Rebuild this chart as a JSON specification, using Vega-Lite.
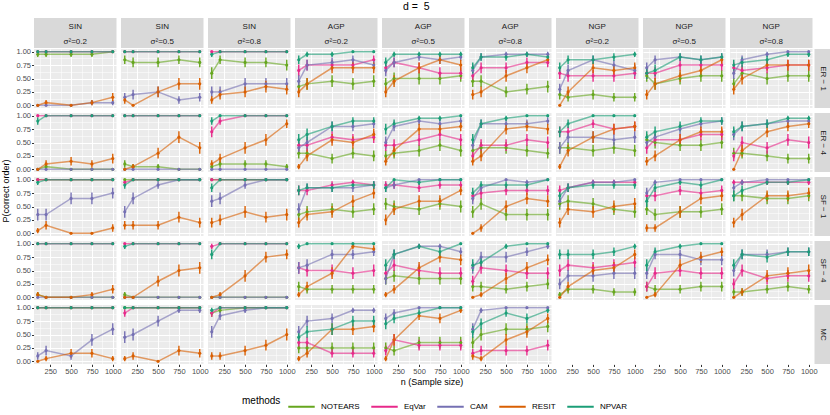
{
"$schema":"https://vega.github.io/schema/vega-lite/v6.json",
"padding":{"left":1,"top":2,"right":0,"bottom":2},
"background":"white",
"title":{"text":"d = \u00a05","fontSize":10.5,"fontWeight":"normal","anchor":"middle","offset":5,"color":"#000000"},
"data":{"values":"c,r,m,n,p,e\nS2,ER1,NOTEARS,100,95,5\nS2,ER1,NOTEARS,200,95,5\nS2,ER1,NOTEARS,500,95,5\nS2,ER1,NOTEARS,750,95,5\nS2,ER1,NOTEARS,1000,100,\nS2,ER1,EqVar,100,100,\nS2,ER1,EqVar,200,100,\nS2,ER1,EqVar,500,100,\nS2,ER1,EqVar,750,100,\nS2,ER1,EqVar,1000,100,\nS2,ER1,CAM,100,0,\nS2,ER1,CAM,200,0,\nS2,ER1,CAM,500,0,\nS2,ER1,CAM,750,5,5\nS2,ER1,CAM,1000,5,5\nS2,ER1,RESIT,100,0,\nS2,ER1,RESIT,200,5,5\nS2,ER1,RESIT,500,0,\nS2,ER1,RESIT,750,5,5\nS2,ER1,RESIT,1000,15,8\nS2,ER1,NPVAR,100,100,\nS2,ER1,NPVAR,200,100,\nS2,ER1,NPVAR,500,100,\nS2,ER1,NPVAR,750,100,\nS2,ER1,NPVAR,1000,100,\nS5,ER1,NOTEARS,100,85,8\nS5,ER1,NOTEARS,200,80,9\nS5,ER1,NOTEARS,500,80,9\nS5,ER1,NOTEARS,750,85,8\nS5,ER1,NOTEARS,1000,80,9\nS5,ER1,EqVar,100,100,\nS5,ER1,EqVar,200,100,\nS5,ER1,EqVar,500,100,\nS5,ER1,EqVar,750,100,\nS5,ER1,EqVar,1000,100,\nS5,ER1,CAM,100,15,8\nS5,ER1,CAM,200,20,9\nS5,ER1,CAM,500,25,10\nS5,ER1,CAM,750,10,7\nS5,ER1,CAM,1000,15,8\nS5,ER1,RESIT,100,10,7\nS5,ER1,RESIT,200,0,\nS5,ER1,RESIT,500,25,10\nS5,ER1,RESIT,750,40,11\nS5,ER1,RESIT,1000,40,11\nS5,ER1,NPVAR,100,100,\nS5,ER1,NPVAR,200,100,\nS5,ER1,NPVAR,500,100,\nS5,ER1,NPVAR,750,100,\nS5,ER1,NPVAR,1000,100,\nS8,ER1,NOTEARS,100,60,11\nS8,ER1,NOTEARS,200,85,8\nS8,ER1,NOTEARS,500,80,9\nS8,ER1,NOTEARS,750,80,9\nS8,ER1,NOTEARS,1000,75,10\nS8,ER1,EqVar,100,100,\nS8,ER1,EqVar,200,100,\nS8,ER1,EqVar,500,100,\nS8,ER1,EqVar,750,100,\nS8,ER1,EqVar,1000,100,\nS8,ER1,CAM,100,25,10\nS8,ER1,CAM,200,25,10\nS8,ER1,CAM,500,40,11\nS8,ER1,CAM,750,40,11\nS8,ER1,CAM,1000,40,11\nS8,ER1,RESIT,100,10,7\nS8,ER1,RESIT,200,20,9\nS8,ER1,RESIT,500,25,10\nS8,ER1,RESIT,750,35,11\nS8,ER1,RESIT,1000,30,10\nS8,ER1,NPVAR,100,95,5\nS8,ER1,NPVAR,200,100,\nS8,ER1,NPVAR,500,100,\nS8,ER1,NPVAR,750,100,\nS8,ER1,NPVAR,1000,100,\nA2,ER1,NOTEARS,100,35,11\nA2,ER1,NOTEARS,200,40,11\nA2,ER1,NOTEARS,500,45,11\nA2,ER1,NOTEARS,750,40,11\nA2,ER1,NOTEARS,1000,45,11\nA2,ER1,EqVar,100,65,11\nA2,ER1,EqVar,200,75,10\nA2,ER1,EqVar,500,75,10\nA2,ER1,EqVar,750,75,10\nA2,ER1,EqVar,1000,85,8\nA2,ER1,CAM,100,45,11\nA2,ER1,CAM,200,75,10\nA2,ER1,CAM,500,80,9\nA2,ER1,CAM,750,85,8\nA2,ER1,CAM,1000,75,10\nA2,ER1,RESIT,100,25,10\nA2,ER1,RESIT,200,40,11\nA2,ER1,RESIT,500,70,10\nA2,ER1,RESIT,750,70,10\nA2,ER1,RESIT,1000,70,10\nA2,ER1,NPVAR,100,85,8\nA2,ER1,NPVAR,200,95,5\nA2,ER1,NPVAR,500,95,5\nA2,ER1,NPVAR,750,100,\nA2,ER1,NPVAR,1000,100,\nA5,ER1,NOTEARS,100,40,11\nA5,ER1,NOTEARS,200,50,11\nA5,ER1,NOTEARS,500,50,11\nA5,ER1,NOTEARS,750,50,11\nA5,ER1,NOTEARS,1000,55,11\nA5,ER1,EqVar,100,70,10\nA5,ER1,EqVar,200,80,9\nA5,ER1,EqVar,500,70,10\nA5,ER1,EqVar,750,60,11\nA5,ER1,EqVar,1000,60,11\nA5,ER1,CAM,100,65,11\nA5,ER1,CAM,200,80,9\nA5,ER1,CAM,500,90,7\nA5,ER1,CAM,750,85,8\nA5,ER1,CAM,1000,90,7\nA5,ER1,RESIT,100,25,10\nA5,ER1,RESIT,200,45,11\nA5,ER1,RESIT,500,70,10\nA5,ER1,RESIT,750,85,8\nA5,ER1,RESIT,1000,75,10\nA5,ER1,NPVAR,100,80,9\nA5,ER1,NPVAR,200,95,5\nA5,ER1,NPVAR,500,95,5\nA5,ER1,NPVAR,750,95,5\nA5,ER1,NPVAR,1000,95,5\nA8,ER1,NOTEARS,100,45,11\nA8,ER1,NOTEARS,200,45,11\nA8,ER1,NOTEARS,500,25,10\nA8,ER1,NOTEARS,750,30,10\nA8,ER1,NOTEARS,1000,35,11\nA8,ER1,EqVar,100,55,11\nA8,ER1,EqVar,200,70,10\nA8,ER1,EqVar,500,70,10\nA8,ER1,EqVar,750,80,9\nA8,ER1,EqVar,1000,80,9\nA8,ER1,CAM,100,65,11\nA8,ER1,CAM,200,90,7\nA8,ER1,CAM,500,95,5\nA8,ER1,CAM,750,95,5\nA8,ER1,CAM,1000,95,5\nA8,ER1,RESIT,100,20,9\nA8,ER1,RESIT,200,25,10\nA8,ER1,RESIT,500,55,11\nA8,ER1,RESIT,750,70,10\nA8,ER1,RESIT,1000,85,8\nA8,ER1,NPVAR,100,70,10\nA8,ER1,NPVAR,200,90,7\nA8,ER1,NPVAR,500,90,7\nA8,ER1,NPVAR,750,95,5\nA8,ER1,NPVAR,1000,90,7\nN2,ER1,NOTEARS,100,20,9\nN2,ER1,NOTEARS,200,15,8\nN2,ER1,NOTEARS,500,20,9\nN2,ER1,NOTEARS,750,15,8\nN2,ER1,NOTEARS,1000,15,8\nN2,ER1,EqVar,100,60,11\nN2,ER1,EqVar,200,55,11\nN2,ER1,EqVar,500,55,11\nN2,ER1,EqVar,750,55,11\nN2,ER1,EqVar,1000,60,11\nN2,ER1,CAM,100,30,10\nN2,ER1,CAM,200,65,11\nN2,ER1,CAM,500,85,8\nN2,ER1,CAM,750,75,10\nN2,ER1,CAM,1000,65,11\nN2,ER1,RESIT,100,0,\nN2,ER1,RESIT,200,25,10\nN2,ER1,RESIT,500,70,10\nN2,ER1,RESIT,750,65,11\nN2,ER1,RESIT,1000,70,10\nN2,ER1,NPVAR,100,70,10\nN2,ER1,NPVAR,200,85,8\nN2,ER1,NPVAR,500,85,8\nN2,ER1,NPVAR,750,90,7\nN2,ER1,NPVAR,1000,95,5\nN5,ER1,NOTEARS,100,55,11\nN5,ER1,NOTEARS,200,40,11\nN5,ER1,NOTEARS,500,50,11\nN5,ER1,NOTEARS,750,55,11\nN5,ER1,NOTEARS,1000,55,11\nN5,ER1,EqVar,100,60,11\nN5,ER1,EqVar,200,60,11\nN5,ER1,EqVar,500,75,10\nN5,ER1,EqVar,750,75,10\nN5,ER1,EqVar,1000,75,10\nN5,ER1,CAM,100,70,10\nN5,ER1,CAM,200,85,8\nN5,ER1,CAM,500,90,7\nN5,ER1,CAM,750,85,8\nN5,ER1,CAM,1000,90,7\nN5,ER1,RESIT,100,20,9\nN5,ER1,RESIT,200,40,11\nN5,ER1,RESIT,500,55,11\nN5,ER1,RESIT,750,65,11\nN5,ER1,RESIT,1000,85,8\nN5,ER1,NPVAR,100,60,11\nN5,ER1,NPVAR,200,65,11\nN5,ER1,NPVAR,500,90,7\nN5,ER1,NPVAR,750,85,8\nN5,ER1,NPVAR,1000,90,7\nN8,ER1,NOTEARS,100,40,11\nN8,ER1,NOTEARS,200,60,11\nN8,ER1,NOTEARS,500,50,11\nN8,ER1,NOTEARS,750,55,11\nN8,ER1,NOTEARS,1000,55,11\nN8,ER1,EqVar,100,70,10\nN8,ER1,EqVar,200,65,11\nN8,ER1,EqVar,500,70,10\nN8,ER1,EqVar,750,75,10\nN8,ER1,EqVar,1000,75,10\nN8,ER1,CAM,100,60,11\nN8,ER1,CAM,200,85,8\nN8,ER1,CAM,500,95,5\nN8,ER1,CAM,750,100,\nN8,ER1,CAM,1000,100,\nN8,ER1,RESIT,100,30,10\nN8,ER1,RESIT,200,50,11\nN8,ER1,RESIT,500,75,10\nN8,ER1,RESIT,750,75,10\nN8,ER1,RESIT,1000,75,10\nN8,ER1,NPVAR,100,75,10\nN8,ER1,NPVAR,200,80,9\nN8,ER1,NPVAR,500,85,8\nN8,ER1,NPVAR,750,95,5\nN8,ER1,NPVAR,1000,95,5\nS2,ER4,NOTEARS,100,0,\nS2,ER4,NOTEARS,200,5,5\nS2,ER4,NOTEARS,500,0,\nS2,ER4,NOTEARS,750,0,\nS2,ER4,NOTEARS,1000,0,\nS2,ER4,EqVar,100,100,\nS2,ER4,EqVar,200,100,\nS2,ER4,EqVar,500,100,\nS2,ER4,EqVar,750,100,\nS2,ER4,EqVar,1000,100,\nS2,ER4,CAM,100,0,\nS2,ER4,CAM,200,0,\nS2,ER4,CAM,500,0,\nS2,ER4,CAM,750,0,\nS2,ER4,CAM,1000,0,\nS2,ER4,RESIT,100,0,\nS2,ER4,RESIT,200,10,7\nS2,ER4,RESIT,500,15,8\nS2,ER4,RESIT,750,10,7\nS2,ER4,RESIT,1000,20,9\nS2,ER4,NPVAR,100,90,7\nS2,ER4,NPVAR,200,100,\nS2,ER4,NPVAR,500,100,\nS2,ER4,NPVAR,750,100,\nS2,ER4,NPVAR,1000,100,\nS5,ER4,NOTEARS,100,10,7\nS5,ER4,NOTEARS,200,5,5\nS5,ER4,NOTEARS,500,5,5\nS5,ER4,NOTEARS,750,0,\nS5,ER4,NOTEARS,1000,0,\nS5,ER4,EqVar,100,100,\nS5,ER4,EqVar,200,100,\nS5,ER4,EqVar,500,100,\nS5,ER4,EqVar,750,100,\nS5,ER4,EqVar,1000,100,\nS5,ER4,CAM,100,0,\nS5,ER4,CAM,200,0,\nS5,ER4,CAM,500,0,\nS5,ER4,CAM,750,0,\nS5,ER4,CAM,1000,0,\nS5,ER4,RESIT,100,0,\nS5,ER4,RESIT,200,5,5\nS5,ER4,RESIT,500,30,10\nS5,ER4,RESIT,750,60,11\nS5,ER4,RESIT,1000,40,11\nS5,ER4,NPVAR,100,100,\nS5,ER4,NPVAR,200,100,\nS5,ER4,NPVAR,500,100,\nS5,ER4,NPVAR,750,100,\nS5,ER4,NPVAR,1000,100,\nS8,ER4,NOTEARS,100,5,5\nS8,ER4,NOTEARS,200,10,7\nS8,ER4,NOTEARS,500,10,7\nS8,ER4,NOTEARS,750,10,7\nS8,ER4,NOTEARS,1000,5,5\nS8,ER4,EqVar,100,70,10\nS8,ER4,EqVar,200,90,7\nS8,ER4,EqVar,500,100,\nS8,ER4,EqVar,750,100,\nS8,ER4,EqVar,1000,100,\nS8,ER4,CAM,100,0,\nS8,ER4,CAM,200,0,\nS8,ER4,CAM,500,0,\nS8,ER4,CAM,750,0,\nS8,ER4,CAM,1000,0,\nS8,ER4,RESIT,100,10,7\nS8,ER4,RESIT,200,20,9\nS8,ER4,RESIT,500,40,11\nS8,ER4,RESIT,750,55,11\nS8,ER4,RESIT,1000,85,8\nS8,ER4,NPVAR,100,90,7\nS8,ER4,NPVAR,200,100,\nS8,ER4,NPVAR,500,100,\nS8,ER4,NPVAR,750,100,\nS8,ER4,NPVAR,1000,100,\nA2,ER4,NOTEARS,100,30,10\nA2,ER4,NOTEARS,200,30,10\nA2,ER4,NOTEARS,500,20,9\nA2,ER4,NOTEARS,750,30,10\nA2,ER4,NOTEARS,1000,25,10\nA2,ER4,EqVar,100,45,11\nA2,ER4,EqVar,200,45,11\nA2,ER4,EqVar,500,60,11\nA2,ER4,EqVar,750,55,11\nA2,ER4,EqVar,1000,60,11\nA2,ER4,CAM,100,40,11\nA2,ER4,CAM,200,50,11\nA2,ER4,CAM,500,80,9\nA2,ER4,CAM,750,80,9\nA2,ER4,CAM,1000,85,8\nA2,ER4,RESIT,100,5,5\nA2,ER4,RESIT,200,25,10\nA2,ER4,RESIT,500,55,11\nA2,ER4,RESIT,750,50,11\nA2,ER4,RESIT,1000,65,11\nA2,ER4,NPVAR,100,55,11\nA2,ER4,NPVAR,200,65,11\nA2,ER4,NPVAR,500,80,9\nA2,ER4,NPVAR,750,90,7\nA2,ER4,NPVAR,1000,90,7\nA5,ER4,NOTEARS,100,25,10\nA5,ER4,NOTEARS,200,30,10\nA5,ER4,NOTEARS,500,35,11\nA5,ER4,NOTEARS,750,45,11\nA5,ER4,NOTEARS,1000,35,11\nA5,ER4,EqVar,100,45,11\nA5,ER4,EqVar,200,45,11\nA5,ER4,EqVar,500,55,11\nA5,ER4,EqVar,750,65,11\nA5,ER4,EqVar,1000,55,11\nA5,ER4,CAM,100,50,11\nA5,ER4,CAM,200,80,9\nA5,ER4,CAM,500,90,7\nA5,ER4,CAM,750,85,8\nA5,ER4,CAM,1000,90,7\nA5,ER4,RESIT,100,15,8\nA5,ER4,RESIT,200,35,11\nA5,ER4,RESIT,500,75,10\nA5,ER4,RESIT,750,75,10\nA5,ER4,RESIT,1000,80,9\nA5,ER4,NPVAR,100,75,10\nA5,ER4,NPVAR,200,85,8\nA5,ER4,NPVAR,500,95,5\nA5,ER4,NPVAR,750,95,5\nA5,ER4,NPVAR,1000,100,\nA8,ER4,NOTEARS,100,35,11\nA8,ER4,NOTEARS,200,40,11\nA8,ER4,NOTEARS,500,40,11\nA8,ER4,NOTEARS,750,35,11\nA8,ER4,NOTEARS,1000,30,10\nA8,ER4,EqVar,100,25,10\nA8,ER4,EqVar,200,45,11\nA8,ER4,EqVar,500,45,11\nA8,ER4,EqVar,750,55,11\nA8,ER4,EqVar,1000,50,11\nA8,ER4,CAM,100,45,11\nA8,ER4,CAM,200,85,8\nA8,ER4,CAM,500,85,8\nA8,ER4,CAM,750,85,8\nA8,ER4,CAM,1000,90,7\nA8,ER4,RESIT,100,15,8\nA8,ER4,RESIT,200,25,10\nA8,ER4,RESIT,500,75,10\nA8,ER4,RESIT,750,80,9\nA8,ER4,RESIT,1000,75,10\nA8,ER4,NPVAR,100,55,11\nA8,ER4,NPVAR,200,85,8\nA8,ER4,NPVAR,500,95,5\nA8,ER4,NPVAR,750,100,\nA8,ER4,NPVAR,1000,100,\nN2,ER4,NOTEARS,100,40,11\nN2,ER4,NOTEARS,200,40,11\nN2,ER4,NOTEARS,500,35,11\nN2,ER4,NOTEARS,750,40,11\nN2,ER4,NOTEARS,1000,35,11\nN2,ER4,EqVar,100,70,10\nN2,ER4,EqVar,200,70,10\nN2,ER4,EqVar,500,85,8\nN2,ER4,EqVar,750,75,10\nN2,ER4,EqVar,1000,80,9\nN2,ER4,CAM,100,40,11\nN2,ER4,CAM,200,60,11\nN2,ER4,CAM,500,60,11\nN2,ER4,CAM,750,55,11\nN2,ER4,CAM,1000,60,11\nN2,ER4,RESIT,100,5,5\nN2,ER4,RESIT,200,35,11\nN2,ER4,RESIT,500,60,11\nN2,ER4,RESIT,750,75,10\nN2,ER4,RESIT,1000,80,9\nN2,ER4,NPVAR,100,70,10\nN2,ER4,NPVAR,200,85,8\nN2,ER4,NPVAR,500,100,\nN2,ER4,NPVAR,750,100,\nN2,ER4,NPVAR,1000,100,\nN5,ER4,NOTEARS,100,55,11\nN5,ER4,NOTEARS,200,50,11\nN5,ER4,NOTEARS,500,45,11\nN5,ER4,NOTEARS,750,45,11\nN5,ER4,NOTEARS,1000,50,11\nN5,ER4,EqVar,100,40,11\nN5,ER4,EqVar,200,55,11\nN5,ER4,EqVar,500,55,11\nN5,ER4,EqVar,750,65,11\nN5,ER4,EqVar,1000,65,11\nN5,ER4,CAM,100,50,11\nN5,ER4,CAM,200,60,11\nN5,ER4,CAM,500,75,10\nN5,ER4,CAM,750,85,8\nN5,ER4,CAM,1000,90,7\nN5,ER4,RESIT,100,15,8\nN5,ER4,RESIT,200,25,10\nN5,ER4,RESIT,500,55,11\nN5,ER4,RESIT,750,70,10\nN5,ER4,RESIT,1000,70,10\nN5,ER4,NPVAR,100,60,11\nN5,ER4,NPVAR,200,70,10\nN5,ER4,NPVAR,500,80,9\nN5,ER4,NPVAR,750,90,7\nN5,ER4,NPVAR,1000,90,7\nN8,ER4,NOTEARS,100,30,10\nN8,ER4,NOTEARS,200,30,10\nN8,ER4,NOTEARS,500,25,10\nN8,ER4,NOTEARS,750,20,9\nN8,ER4,NOTEARS,1000,20,9\nN8,ER4,EqVar,100,25,10\nN8,ER4,EqVar,200,50,11\nN8,ER4,EqVar,500,40,11\nN8,ER4,EqVar,750,55,11\nN8,ER4,EqVar,1000,50,11\nN8,ER4,CAM,100,65,11\nN8,ER4,CAM,200,80,9\nN8,ER4,CAM,500,85,8\nN8,ER4,CAM,750,90,7\nN8,ER4,CAM,1000,90,7\nN8,ER4,RESIT,100,0,\nN8,ER4,RESIT,200,35,11\nN8,ER4,RESIT,500,70,10\nN8,ER4,RESIT,750,80,9\nN8,ER4,RESIT,1000,85,8\nN8,ER4,NPVAR,100,70,10\nN8,ER4,NPVAR,200,80,9\nN8,ER4,NPVAR,500,85,8\nN8,ER4,NPVAR,750,95,5\nN8,ER4,NPVAR,1000,95,5\nS2,SF1,NOTEARS,100,100,\nS2,SF1,NOTEARS,200,100,\nS2,SF1,NOTEARS,500,100,\nS2,SF1,NOTEARS,750,100,\nS2,SF1,NOTEARS,1000,100,\nS2,SF1,EqVar,100,100,\nS2,SF1,EqVar,200,100,\nS2,SF1,EqVar,500,100,\nS2,SF1,EqVar,750,100,\nS2,SF1,EqVar,1000,100,\nS2,SF1,CAM,100,35,11\nS2,SF1,CAM,200,35,11\nS2,SF1,CAM,500,65,11\nS2,SF1,CAM,750,65,11\nS2,SF1,CAM,1000,75,10\nS2,SF1,RESIT,100,5,5\nS2,SF1,RESIT,200,15,8\nS2,SF1,RESIT,500,0,\nS2,SF1,RESIT,750,0,\nS2,SF1,RESIT,1000,10,7\nS2,SF1,NPVAR,100,95,5\nS2,SF1,NPVAR,200,100,\nS2,SF1,NPVAR,500,100,\nS2,SF1,NPVAR,750,100,\nS2,SF1,NPVAR,1000,100,\nS5,SF1,NOTEARS,100,100,\nS5,SF1,NOTEARS,200,100,\nS5,SF1,NOTEARS,500,100,\nS5,SF1,NOTEARS,750,100,\nS5,SF1,NOTEARS,1000,100,\nS5,SF1,EqVar,100,95,5\nS5,SF1,EqVar,200,100,\nS5,SF1,EqVar,500,100,\nS5,SF1,EqVar,750,100,\nS5,SF1,EqVar,1000,100,\nS5,SF1,CAM,100,40,11\nS5,SF1,CAM,200,65,11\nS5,SF1,CAM,500,90,7\nS5,SF1,CAM,750,100,\nS5,SF1,CAM,1000,100,\nS5,SF1,RESIT,100,15,8\nS5,SF1,RESIT,200,15,8\nS5,SF1,RESIT,500,15,8\nS5,SF1,RESIT,750,30,10\nS5,SF1,RESIT,1000,20,9\nS5,SF1,NPVAR,100,90,7\nS5,SF1,NPVAR,200,100,\nS5,SF1,NPVAR,500,100,\nS5,SF1,NPVAR,750,100,\nS5,SF1,NPVAR,1000,100,\nS8,SF1,NOTEARS,100,100,\nS8,SF1,NOTEARS,200,100,\nS8,SF1,NOTEARS,500,100,\nS8,SF1,NOTEARS,750,100,\nS8,SF1,NOTEARS,1000,100,\nS8,SF1,EqVar,100,100,\nS8,SF1,EqVar,200,100,\nS8,SF1,EqVar,500,100,\nS8,SF1,EqVar,750,100,\nS8,SF1,EqVar,1000,100,\nS8,SF1,CAM,100,60,11\nS8,SF1,CAM,200,65,11\nS8,SF1,CAM,500,90,7\nS8,SF1,CAM,750,100,\nS8,SF1,CAM,1000,100,\nS8,SF1,RESIT,100,20,9\nS8,SF1,RESIT,200,25,10\nS8,SF1,RESIT,500,40,11\nS8,SF1,RESIT,750,30,10\nS8,SF1,RESIT,1000,35,11\nS8,SF1,NPVAR,100,85,8\nS8,SF1,NPVAR,200,100,\nS8,SF1,NPVAR,500,100,\nS8,SF1,NPVAR,750,100,\nS8,SF1,NPVAR,1000,100,\nA2,SF1,NOTEARS,100,35,11\nA2,SF1,NOTEARS,200,40,11\nA2,SF1,NOTEARS,500,45,11\nA2,SF1,NOTEARS,750,40,11\nA2,SF1,NOTEARS,1000,45,11\nA2,SF1,EqVar,100,80,9\nA2,SF1,EqVar,200,80,9\nA2,SF1,EqVar,500,90,7\nA2,SF1,EqVar,750,95,5\nA2,SF1,EqVar,1000,90,7\nA2,SF1,CAM,100,45,11\nA2,SF1,CAM,200,85,8\nA2,SF1,CAM,500,85,8\nA2,SF1,CAM,750,85,8\nA2,SF1,CAM,1000,90,7\nA2,SF1,RESIT,100,20,9\nA2,SF1,RESIT,200,35,11\nA2,SF1,RESIT,500,40,11\nA2,SF1,RESIT,750,60,11\nA2,SF1,RESIT,1000,75,10\nA2,SF1,NPVAR,100,80,9\nA2,SF1,NPVAR,200,85,8\nA2,SF1,NPVAR,500,85,8\nA2,SF1,NPVAR,750,90,7\nA2,SF1,NPVAR,1000,90,7\nA5,SF1,NOTEARS,100,55,11\nA5,SF1,NOTEARS,200,50,11\nA5,SF1,NOTEARS,500,45,11\nA5,SF1,NOTEARS,750,55,11\nA5,SF1,NOTEARS,1000,50,11\nA5,SF1,EqVar,100,90,7\nA5,SF1,EqVar,200,90,7\nA5,SF1,EqVar,500,85,8\nA5,SF1,EqVar,750,90,7\nA5,SF1,EqVar,1000,90,7\nA5,SF1,CAM,100,85,8\nA5,SF1,CAM,200,90,7\nA5,SF1,CAM,500,100,\nA5,SF1,CAM,750,100,\nA5,SF1,CAM,1000,100,\nA5,SF1,RESIT,100,25,10\nA5,SF1,RESIT,200,45,11\nA5,SF1,RESIT,500,60,11\nA5,SF1,RESIT,750,60,11\nA5,SF1,RESIT,1000,80,9\nA5,SF1,NPVAR,100,85,8\nA5,SF1,NPVAR,200,100,\nA5,SF1,NPVAR,500,95,5\nA5,SF1,NPVAR,750,100,\nA5,SF1,NPVAR,1000,100,\nA8,SF1,NOTEARS,100,40,11\nA8,SF1,NOTEARS,200,55,11\nA8,SF1,NOTEARS,500,35,11\nA8,SF1,NOTEARS,750,35,11\nA8,SF1,NOTEARS,1000,35,11\nA8,SF1,EqVar,100,70,10\nA8,SF1,EqVar,200,75,10\nA8,SF1,EqVar,500,80,9\nA8,SF1,EqVar,750,80,9\nA8,SF1,EqVar,1000,80,9\nA8,SF1,CAM,100,65,11\nA8,SF1,CAM,200,85,8\nA8,SF1,CAM,500,100,\nA8,SF1,CAM,750,95,5\nA8,SF1,CAM,1000,100,\nA8,SF1,RESIT,100,0,\nA8,SF1,RESIT,200,10,7\nA8,SF1,RESIT,500,50,11\nA8,SF1,RESIT,750,65,11\nA8,SF1,RESIT,1000,60,11\nA8,SF1,NPVAR,100,75,10\nA8,SF1,NPVAR,200,90,7\nA8,SF1,NPVAR,500,90,7\nA8,SF1,NPVAR,750,90,7\nA8,SF1,NPVAR,1000,100,\nN2,SF1,NOTEARS,100,55,11\nN2,SF1,NOTEARS,200,60,11\nN2,SF1,NOTEARS,500,55,11\nN2,SF1,NOTEARS,750,45,11\nN2,SF1,NOTEARS,1000,40,11\nN2,SF1,EqVar,100,80,9\nN2,SF1,EqVar,200,85,8\nN2,SF1,EqVar,500,95,5\nN2,SF1,EqVar,750,95,5\nN2,SF1,EqVar,1000,95,5\nN2,SF1,CAM,100,60,11\nN2,SF1,CAM,200,85,8\nN2,SF1,CAM,500,95,5\nN2,SF1,CAM,750,95,5\nN2,SF1,CAM,1000,100,\nN2,SF1,RESIT,100,20,9\nN2,SF1,RESIT,200,45,11\nN2,SF1,RESIT,500,40,11\nN2,SF1,RESIT,750,50,11\nN2,SF1,RESIT,1000,55,11\nN2,SF1,NPVAR,100,70,10\nN2,SF1,NPVAR,200,85,8\nN2,SF1,NPVAR,500,90,7\nN2,SF1,NPVAR,750,90,7\nN2,SF1,NPVAR,1000,90,7\nN5,SF1,NOTEARS,100,45,11\nN5,SF1,NOTEARS,200,35,11\nN5,SF1,NOTEARS,500,40,11\nN5,SF1,NOTEARS,750,40,11\nN5,SF1,NOTEARS,1000,45,11\nN5,SF1,EqVar,100,70,10\nN5,SF1,EqVar,200,70,10\nN5,SF1,EqVar,500,80,9\nN5,SF1,EqVar,750,75,10\nN5,SF1,EqVar,1000,80,9\nN5,SF1,CAM,100,75,10\nN5,SF1,CAM,200,95,5\nN5,SF1,CAM,500,100,\nN5,SF1,CAM,750,100,\nN5,SF1,CAM,1000,100,\nN5,SF1,RESIT,100,10,7\nN5,SF1,RESIT,200,10,7\nN5,SF1,RESIT,500,40,11\nN5,SF1,RESIT,750,65,11\nN5,SF1,RESIT,1000,70,10\nN5,SF1,NPVAR,100,60,11\nN5,SF1,NPVAR,200,85,8\nN5,SF1,NPVAR,500,95,5\nN5,SF1,NPVAR,750,90,7\nN5,SF1,NPVAR,1000,100,\nN8,SF1,NOTEARS,100,70,10\nN8,SF1,NOTEARS,200,70,10\nN8,SF1,NOTEARS,500,65,11\nN8,SF1,NOTEARS,750,65,11\nN8,SF1,NOTEARS,1000,70,10\nN8,SF1,EqVar,100,95,5\nN8,SF1,EqVar,200,95,5\nN8,SF1,EqVar,500,95,5\nN8,SF1,EqVar,750,95,5\nN8,SF1,EqVar,1000,95,5\nN8,SF1,CAM,100,85,8\nN8,SF1,CAM,200,95,5\nN8,SF1,CAM,500,100,\nN8,SF1,CAM,750,100,\nN8,SF1,CAM,1000,100,\nN8,SF1,RESIT,100,20,9\nN8,SF1,RESIT,200,35,11\nN8,SF1,RESIT,500,70,10\nN8,SF1,RESIT,750,70,10\nN8,SF1,RESIT,1000,75,10\nN8,SF1,NPVAR,100,70,10\nN8,SF1,NPVAR,200,80,9\nN8,SF1,NPVAR,500,95,5\nN8,SF1,NPVAR,750,95,5\nN8,SF1,NPVAR,1000,100,\nS2,SF4,NOTEARS,100,5,5\nS2,SF4,NOTEARS,200,0,\nS2,SF4,NOTEARS,500,0,\nS2,SF4,NOTEARS,750,0,\nS2,SF4,NOTEARS,1000,0,\nS2,SF4,EqVar,100,100,\nS2,SF4,EqVar,200,100,\nS2,SF4,EqVar,500,100,\nS2,SF4,EqVar,750,100,\nS2,SF4,EqVar,1000,100,\nS2,SF4,CAM,100,0,\nS2,SF4,CAM,200,0,\nS2,SF4,CAM,500,0,\nS2,SF4,CAM,750,0,\nS2,SF4,CAM,1000,0,\nS2,SF4,RESIT,100,5,5\nS2,SF4,RESIT,200,0,\nS2,SF4,RESIT,500,0,\nS2,SF4,RESIT,750,5,5\nS2,SF4,RESIT,1000,15,8\nS2,SF4,NPVAR,100,100,\nS2,SF4,NPVAR,200,100,\nS2,SF4,NPVAR,500,100,\nS2,SF4,NPVAR,750,100,\nS2,SF4,NPVAR,1000,100,\nS5,SF4,NOTEARS,100,5,5\nS5,SF4,NOTEARS,200,0,\nS5,SF4,NOTEARS,500,0,\nS5,SF4,NOTEARS,750,0,\nS5,SF4,NOTEARS,1000,0,\nS5,SF4,EqVar,100,100,\nS5,SF4,EqVar,200,100,\nS5,SF4,EqVar,500,100,\nS5,SF4,EqVar,750,100,\nS5,SF4,EqVar,1000,100,\nS5,SF4,CAM,100,0,\nS5,SF4,CAM,200,0,\nS5,SF4,CAM,500,0,\nS5,SF4,CAM,750,0,\nS5,SF4,CAM,1000,0,\nS5,SF4,RESIT,100,0,\nS5,SF4,RESIT,200,0,\nS5,SF4,RESIT,500,30,10\nS5,SF4,RESIT,750,50,11\nS5,SF4,RESIT,1000,55,11\nS5,SF4,NPVAR,100,95,5\nS5,SF4,NPVAR,200,100,\nS5,SF4,NPVAR,500,100,\nS5,SF4,NPVAR,750,100,\nS5,SF4,NPVAR,1000,100,\nS8,SF4,NOTEARS,100,0,\nS8,SF4,NOTEARS,200,0,\nS8,SF4,NOTEARS,500,0,\nS8,SF4,NOTEARS,750,0,\nS8,SF4,NOTEARS,1000,0,\nS8,SF4,EqVar,100,95,5\nS8,SF4,EqVar,200,100,\nS8,SF4,EqVar,500,100,\nS8,SF4,EqVar,750,100,\nS8,SF4,EqVar,1000,100,\nS8,SF4,CAM,100,0,\nS8,SF4,CAM,200,0,\nS8,SF4,CAM,500,0,\nS8,SF4,CAM,750,0,\nS8,SF4,CAM,1000,0,\nS8,SF4,RESIT,100,0,\nS8,SF4,RESIT,200,5,5\nS8,SF4,RESIT,500,40,11\nS8,SF4,RESIT,750,75,10\nS8,SF4,RESIT,1000,80,9\nS8,SF4,NPVAR,100,80,9\nS8,SF4,NPVAR,200,100,\nS8,SF4,NPVAR,500,100,\nS8,SF4,NPVAR,750,100,\nS8,SF4,NPVAR,1000,100,\nA2,SF4,NOTEARS,100,20,9\nA2,SF4,NOTEARS,200,15,8\nA2,SF4,NOTEARS,500,15,8\nA2,SF4,NOTEARS,750,15,8\nA2,SF4,NOTEARS,1000,15,8\nA2,SF4,EqVar,100,55,11\nA2,SF4,EqVar,200,50,11\nA2,SF4,EqVar,500,50,11\nA2,SF4,EqVar,750,45,11\nA2,SF4,EqVar,1000,50,11\nA2,SF4,CAM,100,55,11\nA2,SF4,CAM,200,60,11\nA2,SF4,CAM,500,80,9\nA2,SF4,CAM,750,80,9\nA2,SF4,CAM,1000,85,8\nA2,SF4,RESIT,100,5,5\nA2,SF4,RESIT,200,20,9\nA2,SF4,RESIT,500,45,11\nA2,SF4,RESIT,750,95,5\nA2,SF4,RESIT,1000,90,7\nA2,SF4,NPVAR,100,95,5\nA2,SF4,NPVAR,200,100,\nA2,SF4,NPVAR,500,100,\nA2,SF4,NPVAR,750,100,\nA2,SF4,NPVAR,1000,100,\nA5,SF4,NOTEARS,100,35,11\nA5,SF4,NOTEARS,200,40,11\nA5,SF4,NOTEARS,500,35,11\nA5,SF4,NOTEARS,750,35,11\nA5,SF4,NOTEARS,1000,35,11\nA5,SF4,EqVar,100,45,11\nA5,SF4,EqVar,200,60,11\nA5,SF4,EqVar,500,50,11\nA5,SF4,EqVar,750,45,11\nA5,SF4,EqVar,1000,45,11\nA5,SF4,CAM,100,35,11\nA5,SF4,CAM,200,80,9\nA5,SF4,CAM,500,95,5\nA5,SF4,CAM,750,95,5\nA5,SF4,CAM,1000,85,8\nA5,SF4,RESIT,100,5,5\nA5,SF4,RESIT,200,15,8\nA5,SF4,RESIT,500,55,11\nA5,SF4,RESIT,750,75,10\nA5,SF4,RESIT,1000,70,10\nA5,SF4,NPVAR,100,60,11\nA5,SF4,NPVAR,200,80,9\nA5,SF4,NPVAR,500,95,5\nA5,SF4,NPVAR,750,85,8\nA5,SF4,NPVAR,1000,100,\nA8,SF4,NOTEARS,100,20,9\nA8,SF4,NOTEARS,200,20,9\nA8,SF4,NOTEARS,500,15,8\nA8,SF4,NOTEARS,750,20,9\nA8,SF4,NOTEARS,1000,25,10\nA8,SF4,EqVar,100,30,10\nA8,SF4,EqVar,200,55,11\nA8,SF4,EqVar,500,50,11\nA8,SF4,EqVar,750,45,11\nA8,SF4,EqVar,1000,45,11\nA8,SF4,CAM,100,55,11\nA8,SF4,CAM,200,75,10\nA8,SF4,CAM,500,75,10\nA8,SF4,CAM,750,85,8\nA8,SF4,CAM,1000,95,5\nA8,SF4,RESIT,100,0,\nA8,SF4,RESIT,200,5,5\nA8,SF4,RESIT,500,35,11\nA8,SF4,RESIT,750,55,11\nA8,SF4,RESIT,1000,70,10\nA8,SF4,NPVAR,100,60,11\nA8,SF4,NPVAR,200,65,11\nA8,SF4,NPVAR,500,95,5\nA8,SF4,NPVAR,750,100,\nA8,SF4,NPVAR,1000,100,\nN2,SF4,NOTEARS,100,5,5\nN2,SF4,NOTEARS,200,15,8\nN2,SF4,NOTEARS,500,15,8\nN2,SF4,NOTEARS,750,10,7\nN2,SF4,NOTEARS,1000,10,7\nN2,SF4,EqVar,100,50,11\nN2,SF4,EqVar,200,60,11\nN2,SF4,EqVar,500,55,11\nN2,SF4,EqVar,750,60,11\nN2,SF4,EqVar,1000,65,11\nN2,SF4,CAM,100,25,10\nN2,SF4,CAM,200,40,11\nN2,SF4,CAM,500,40,11\nN2,SF4,CAM,750,45,11\nN2,SF4,CAM,1000,45,11\nN2,SF4,RESIT,100,0,\nN2,SF4,RESIT,200,20,9\nN2,SF4,RESIT,500,50,11\nN2,SF4,RESIT,750,55,11\nN2,SF4,RESIT,1000,80,9\nN2,SF4,NPVAR,100,80,9\nN2,SF4,NPVAR,200,80,9\nN2,SF4,NPVAR,500,80,9\nN2,SF4,NPVAR,750,85,8\nN2,SF4,NPVAR,1000,95,5\nN5,SF4,NOTEARS,100,20,9\nN5,SF4,NOTEARS,200,15,8\nN5,SF4,NOTEARS,500,15,8\nN5,SF4,NOTEARS,750,20,9\nN5,SF4,NOTEARS,1000,20,9\nN5,SF4,EqVar,100,20,9\nN5,SF4,EqVar,200,45,11\nN5,SF4,EqVar,500,50,11\nN5,SF4,EqVar,750,45,11\nN5,SF4,EqVar,1000,45,11\nN5,SF4,CAM,100,45,11\nN5,SF4,CAM,200,80,9\nN5,SF4,CAM,500,80,9\nN5,SF4,CAM,750,70,10\nN5,SF4,CAM,1000,70,10\nN5,SF4,RESIT,100,0,\nN5,SF4,RESIT,200,5,5\nN5,SF4,RESIT,500,60,11\nN5,SF4,RESIT,750,75,10\nN5,SF4,RESIT,1000,85,8\nN5,SF4,NPVAR,100,60,11\nN5,SF4,NPVAR,200,85,8\nN5,SF4,NPVAR,500,95,5\nN5,SF4,NPVAR,750,100,\nN5,SF4,NPVAR,1000,100,\nN8,SF4,NOTEARS,100,10,7\nN8,SF4,NOTEARS,200,10,7\nN8,SF4,NOTEARS,500,15,8\nN8,SF4,NOTEARS,750,20,9\nN8,SF4,NOTEARS,1000,15,8\nN8,SF4,EqVar,100,25,10\nN8,SF4,EqVar,200,50,11\nN8,SF4,EqVar,500,35,11\nN8,SF4,EqVar,750,40,11\nN8,SF4,EqVar,1000,40,11\nN8,SF4,CAM,100,50,11\nN8,SF4,CAM,200,80,9\nN8,SF4,CAM,500,80,9\nN8,SF4,CAM,750,85,8\nN8,SF4,CAM,1000,85,8\nN8,SF4,RESIT,100,0,\nN8,SF4,RESIT,200,10,7\nN8,SF4,RESIT,500,40,11\nN8,SF4,RESIT,750,45,11\nN8,SF4,RESIT,1000,50,11\nN8,SF4,NPVAR,100,60,11\nN8,SF4,NPVAR,200,80,9\nN8,SF4,NPVAR,500,75,10\nN8,SF4,NPVAR,750,85,8\nN8,SF4,NPVAR,1000,85,8\nS2,MC,NOTEARS,100,100,\nS2,MC,NOTEARS,200,100,\nS2,MC,NOTEARS,500,100,\nS2,MC,NOTEARS,750,100,\nS2,MC,NOTEARS,1000,100,\nS2,MC,EqVar,100,100,\nS2,MC,EqVar,200,100,\nS2,MC,EqVar,500,100,\nS2,MC,EqVar,750,100,\nS2,MC,EqVar,1000,100,\nS2,MC,CAM,100,10,7\nS2,MC,CAM,200,20,9\nS2,MC,CAM,500,10,7\nS2,MC,CAM,750,40,11\nS2,MC,CAM,1000,60,11\nS2,MC,RESIT,100,0,\nS2,MC,RESIT,200,5,5\nS2,MC,RESIT,500,15,8\nS2,MC,RESIT,750,15,8\nS2,MC,RESIT,1000,5,5\nS2,MC,NPVAR,100,100,\nS2,MC,NPVAR,200,100,\nS2,MC,NPVAR,500,100,\nS2,MC,NPVAR,750,100,\nS2,MC,NPVAR,1000,100,\nS5,MC,NOTEARS,100,100,\nS5,MC,NOTEARS,200,100,\nS5,MC,NOTEARS,500,100,\nS5,MC,NOTEARS,750,100,\nS5,MC,NOTEARS,1000,100,\nS5,MC,EqVar,100,90,7\nS5,MC,EqVar,200,100,\nS5,MC,EqVar,500,100,\nS5,MC,EqVar,750,100,\nS5,MC,EqVar,1000,100,\nS5,MC,CAM,100,45,11\nS5,MC,CAM,200,50,11\nS5,MC,CAM,500,75,10\nS5,MC,CAM,750,95,5\nS5,MC,CAM,1000,95,5\nS5,MC,RESIT,100,5,5\nS5,MC,RESIT,200,10,7\nS5,MC,RESIT,500,0,\nS5,MC,RESIT,750,20,9\nS5,MC,RESIT,1000,15,8\nS5,MC,NPVAR,100,100,\nS5,MC,NPVAR,200,100,\nS5,MC,NPVAR,500,100,\nS5,MC,NPVAR,750,100,\nS5,MC,NPVAR,1000,100,\nS8,MC,NOTEARS,100,90,7\nS8,MC,NOTEARS,200,95,5\nS8,MC,NOTEARS,500,100,\nS8,MC,NOTEARS,750,100,\nS8,MC,NOTEARS,1000,100,\nS8,MC,EqVar,100,90,7\nS8,MC,EqVar,200,100,\nS8,MC,EqVar,500,100,\nS8,MC,EqVar,750,100,\nS8,MC,EqVar,1000,100,\nS8,MC,CAM,100,55,11\nS8,MC,CAM,200,85,8\nS8,MC,CAM,500,95,5\nS8,MC,CAM,750,100,\nS8,MC,CAM,1000,100,\nS8,MC,RESIT,100,10,7\nS8,MC,RESIT,200,10,7\nS8,MC,RESIT,500,20,9\nS8,MC,RESIT,750,30,10\nS8,MC,RESIT,1000,50,11\nS8,MC,NPVAR,100,95,5\nS8,MC,NPVAR,200,100,\nS8,MC,NPVAR,500,100,\nS8,MC,NPVAR,750,100,\nS8,MC,NPVAR,1000,100,\nA2,MC,NOTEARS,100,25,10\nA2,MC,NOTEARS,200,25,10\nA2,MC,NOTEARS,500,25,10\nA2,MC,NOTEARS,750,25,10\nA2,MC,NOTEARS,1000,25,10\nA2,MC,EqVar,100,35,11\nA2,MC,EqVar,200,35,11\nA2,MC,EqVar,500,15,8\nA2,MC,EqVar,750,15,8\nA2,MC,EqVar,1000,15,8\nA2,MC,CAM,100,55,11\nA2,MC,CAM,200,75,10\nA2,MC,CAM,500,80,9\nA2,MC,CAM,750,95,5\nA2,MC,CAM,1000,95,5\nA2,MC,RESIT,100,5,5\nA2,MC,RESIT,200,15,8\nA2,MC,RESIT,500,60,11\nA2,MC,RESIT,750,60,11\nA2,MC,RESIT,1000,65,11\nA2,MC,NPVAR,100,45,11\nA2,MC,NPVAR,200,55,11\nA2,MC,NPVAR,500,60,11\nA2,MC,NPVAR,750,75,10\nA2,MC,NPVAR,1000,75,10\nA5,MC,NOTEARS,100,25,10\nA5,MC,NOTEARS,200,20,9\nA5,MC,NOTEARS,500,35,11\nA5,MC,NOTEARS,750,35,11\nA5,MC,NOTEARS,1000,35,11\nA5,MC,EqVar,100,20,9\nA5,MC,EqVar,200,40,11\nA5,MC,EqVar,500,30,10\nA5,MC,EqVar,750,30,10\nA5,MC,EqVar,1000,30,10\nA5,MC,CAM,100,80,9\nA5,MC,CAM,200,90,7\nA5,MC,CAM,500,100,\nA5,MC,CAM,750,100,\nA5,MC,CAM,1000,100,\nA5,MC,RESIT,100,5,5\nA5,MC,RESIT,200,40,11\nA5,MC,RESIT,500,85,8\nA5,MC,RESIT,750,80,9\nA5,MC,RESIT,1000,95,5\nA5,MC,NPVAR,100,70,10\nA5,MC,NPVAR,200,80,9\nA5,MC,NPVAR,500,90,7\nA5,MC,NPVAR,750,100,\nA5,MC,NPVAR,1000,100,\nA8,MC,NOTEARS,100,35,11\nA8,MC,NOTEARS,200,50,11\nA8,MC,NOTEARS,500,60,11\nA8,MC,NOTEARS,750,60,11\nA8,MC,NOTEARS,1000,65,11\nA8,MC,EqVar,100,15,8\nA8,MC,EqVar,200,20,9\nA8,MC,EqVar,500,20,9\nA8,MC,EqVar,750,20,9\nA8,MC,EqVar,1000,30,10\nA8,MC,CAM,100,60,11\nA8,MC,CAM,200,95,5\nA8,MC,CAM,500,100,\nA8,MC,CAM,750,100,\nA8,MC,CAM,1000,100,\nA8,MC,RESIT,100,10,7\nA8,MC,RESIT,200,5,5\nA8,MC,RESIT,500,40,11\nA8,MC,RESIT,750,55,11\nA8,MC,RESIT,1000,80,9\nA8,MC,NPVAR,100,55,11\nA8,MC,NPVAR,200,70,10\nA8,MC,NPVAR,500,90,7\nA8,MC,NPVAR,750,80,9\nA8,MC,NPVAR,1000,95,5\nN2,MC,,,,\nN5,MC,,,,\nN8,MC,,,,","format":{"type":"csv","parse":{"n":"number","p":"number","e":"number"}}},
"transform":[
 {"lookup":"c","from":{"data":{"values":[{"c":"S2","ct":"SIN|σ²=0.2"},{"c":"S5","ct":"SIN|σ²=0.5"},{"c":"S8","ct":"SIN|σ²=0.8"},{"c":"A2","ct":"AGP|σ²=0.2"},{"c":"A5","ct":"AGP|σ²=0.5"},{"c":"A8","ct":"AGP|σ²=0.8"},{"c":"N2","ct":"NGP|σ²=0.2"},{"c":"N5","ct":"NGP|σ²=0.5"},{"c":"N8","ct":"NGP|σ²=0.8"}]},"key":"c","fields":["ct"]}},
 {"lookup":"r","from":{"data":{"values":[{"r":"ER1","rt":"ER − 1"},{"r":"ER4","rt":"ER − 4"},{"r":"SF1","rt":"SF − 1"},{"r":"SF4","rt":"SF − 4"},{"r":"MC","rt":"MC"}]},"key":"r","fields":["rt"]}}
],
"facet":{
 "column":{"field":"c","type":"nominal","sort":["S2","S5","S8","A2","A5","A8","N2","N5","N8"],"header":{"labels":false,"labelPadding":0,"title":"n (Sample size)","titleOrient":"bottom","titleFontSize":9,"titleFontWeight":"normal","titleColor":"#000000","titlePadding":-7}},
 "row":{"field":"r","type":"nominal","sort":["ER1","ER4","SF1","SF4","MC"],"header":{"labels":false,"labelPadding":0,"title":"P(correct order)","titleOrient":"left","titleFontSize":9,"titleFontWeight":"normal","titleColor":"#000000","titlePadding":-6}}
},
"spacing":{"row":5,"column":4},
"bounds":"flush",
"spec":{
 "width":82.5,"height":59,
 "layer":[
  {"transform":[{"filter":"isValid(datum.p)"}],"mark":{"type":"line","strokeWidth":1.5,"opacity":0.6},"encoding":{
   "x":{"field":"n","type":"quantitative","scale":{"domain":[55,1045],"nice":false,"zero":false},"axis":{"title":null,"values":[125,250,375,500,625,750,875,1000],"labelExpr":"datum.value % 250 == 0 ? format(datum.value, 'd') : ''","gridWidth":{"condition":{"test":"datum.value % 250 == 0","value":1},"value":0.5},"tickOpacity":{"condition":{"test":"datum.value % 250 == 0","value":1},"value":0}}},
   "y":{"field":"p","type":"quantitative","scale":{"domain":[-5,105],"nice":false,"zero":false},"axis":{"title":null,"values":[0,12.5,25,37.5,50,62.5,75,87.5,100],"labelExpr":"datum.value % 25 == 0 ? format(datum.value/100, '.2f') : ''","gridWidth":{"condition":{"test":"datum.value % 25 == 0","value":1},"value":0.5},"tickOpacity":{"condition":{"test":"datum.value % 25 == 0","value":1},"value":0}}},
   "color":{"field":"m","type":"nominal","scale":{"domain":["NOTEARS","EqVar","CAM","RESIT","NPVAR"],"range":["#66A61E","#E7298A","#7570B3","#D95F02","#1B9E77"]},"legend":{"title":"methods"}}}},
  {"transform":[{"filter":"isValid(datum.p)"}],"mark":{"type":"errorbar","thickness":1.4},"encoding":{
   "x":{"field":"n","type":"quantitative","scale":{"domain":[55,1045],"nice":false,"zero":false},"axis":{"title":null,"values":[125,250,375,500,625,750,875,1000],"labelExpr":"datum.value % 250 == 0 ? format(datum.value, 'd') : ''","gridWidth":{"condition":{"test":"datum.value % 250 == 0","value":1},"value":0.5},"tickOpacity":{"condition":{"test":"datum.value % 250 == 0","value":1},"value":0}}},
   "y":{"field":"p","type":"quantitative","scale":{"domain":[-5,105],"nice":false,"zero":false},"axis":{"title":null,"values":[0,12.5,25,37.5,50,62.5,75,87.5,100],"labelExpr":"datum.value % 25 == 0 ? format(datum.value/100, '.2f') : ''","gridWidth":{"condition":{"test":"datum.value % 25 == 0","value":1},"value":0.5},"tickOpacity":{"condition":{"test":"datum.value % 25 == 0","value":1},"value":0}}},
   "yError":{"field":"e"},
   "color":{"field":"m","type":"nominal","scale":{"domain":["NOTEARS","EqVar","CAM","RESIT","NPVAR"],"range":["#66A61E","#E7298A","#7570B3","#D95F02","#1B9E77"]},"legend":{"title":"methods"}}}},
  {"transform":[{"filter":"isValid(datum.p)"}],"mark":{"type":"point","filled":true,"size":10,"opacity":1},"encoding":{
   "x":{"field":"n","type":"quantitative","scale":{"domain":[55,1045],"nice":false,"zero":false},"axis":{"title":null,"values":[125,250,375,500,625,750,875,1000],"labelExpr":"datum.value % 250 == 0 ? format(datum.value, 'd') : ''","gridWidth":{"condition":{"test":"datum.value % 250 == 0","value":1},"value":0.5},"tickOpacity":{"condition":{"test":"datum.value % 250 == 0","value":1},"value":0}}},
   "y":{"field":"p","type":"quantitative","scale":{"domain":[-5,105],"nice":false,"zero":false},"axis":{"title":null,"values":[0,12.5,25,37.5,50,62.5,75,87.5,100],"labelExpr":"datum.value % 25 == 0 ? format(datum.value/100, '.2f') : ''","gridWidth":{"condition":{"test":"datum.value % 25 == 0","value":1},"value":0.5},"tickOpacity":{"condition":{"test":"datum.value % 25 == 0","value":1},"value":0}}},
   "color":{"field":"m","type":"nominal","scale":{"domain":["NOTEARS","EqVar","CAM","RESIT","NPVAR"],"range":["#66A61E","#E7298A","#7570B3","#D95F02","#1B9E77"]},"legend":{"title":"methods"}}}},
  {"transform":[{"filter":"!isValid(datum.p)"}],"mark":{"type":"rect","fill":"#FFFFFF"},"encoding":{
   "x":{"datum":50,"type":"quantitative","scale":{"domain":[55,1045],"nice":false,"zero":false},"axis":{"title":null,"values":[125,250,375,500,625,750,875,1000],"labelExpr":"datum.value % 250 == 0 ? format(datum.value, 'd') : ''","gridWidth":{"condition":{"test":"datum.value % 250 == 0","value":1},"value":0.5},"tickOpacity":{"condition":{"test":"datum.value % 250 == 0","value":1},"value":0}}},
   "x2":{"datum":1050},
   "y":{"datum":-6,"type":"quantitative","scale":{"domain":[-5,105],"nice":false,"zero":false},"axis":{"title":null,"values":[0,12.5,25,37.5,50,62.5,75,87.5,100],"labelExpr":"datum.value % 25 == 0 ? format(datum.value/100, '.2f') : ''","gridWidth":{"condition":{"test":"datum.value % 25 == 0","value":1},"value":0.5},"tickOpacity":{"condition":{"test":"datum.value % 25 == 0","value":1},"value":0}}},
   "y2":{"datum":106}}},
  {"transform":[{"filter":{"field":"r","equal":"ER1"}},{"aggregate":[{"op":"count","as":"k"}],"groupby":["c","r","ct"]}],"mark":{"type":"rect","fill":"#D9D9D9"},"encoding":{
   "x":{"datum":55,"type":"quantitative","scale":{"domain":[55,1045],"nice":false,"zero":false},"axis":{"title":null,"values":[125,250,375,500,625,750,875,1000],"labelExpr":"datum.value % 250 == 0 ? format(datum.value, 'd') : ''","gridWidth":{"condition":{"test":"datum.value % 250 == 0","value":1},"value":0.5},"tickOpacity":{"condition":{"test":"datum.value % 250 == 0","value":1},"value":0}}},
   "x2":{"datum":1045},
   "y":{"datum":106.9,"type":"quantitative","scale":{"domain":[-5,105],"nice":false,"zero":false},"axis":{"title":null,"values":[0,12.5,25,37.5,50,62.5,75,87.5,100],"labelExpr":"datum.value % 25 == 0 ? format(datum.value/100, '.2f') : ''","gridWidth":{"condition":{"test":"datum.value % 25 == 0","value":1},"value":0.5},"tickOpacity":{"condition":{"test":"datum.value % 25 == 0","value":1},"value":0}}},
   "y2":{"datum":162.8}}},
  {"transform":[{"filter":{"field":"r","equal":"ER1"}},{"aggregate":[{"op":"count","as":"k"}],"groupby":["c","r","ct"]}],"mark":{"type":"text","lineBreak":"|","fontSize":8,"lineHeight":15,"color":"#1A1A1A","baseline":"middle","align":"center"},"encoding":{
   "x":{"datum":550,"type":"quantitative","scale":{"domain":[55,1045],"nice":false,"zero":false},"axis":{"title":null,"values":[125,250,375,500,625,750,875,1000],"labelExpr":"datum.value % 250 == 0 ? format(datum.value, 'd') : ''","gridWidth":{"condition":{"test":"datum.value % 250 == 0","value":1},"value":0.5},"tickOpacity":{"condition":{"test":"datum.value % 250 == 0","value":1},"value":0}}},
   "y":{"datum":145.3,"type":"quantitative","scale":{"domain":[-5,105],"nice":false,"zero":false},"axis":{"title":null,"values":[0,12.5,25,37.5,50,62.5,75,87.5,100],"labelExpr":"datum.value % 25 == 0 ? format(datum.value/100, '.2f') : ''","gridWidth":{"condition":{"test":"datum.value % 25 == 0","value":1},"value":0.5},"tickOpacity":{"condition":{"test":"datum.value % 25 == 0","value":1},"value":0}}},
   "text":{"field":"ct"}}},
  {"transform":[{"filter":{"field":"c","equal":"N8"}},{"aggregate":[{"op":"count","as":"k"}],"groupby":["c","r","rt"]}],"mark":{"type":"rect","fill":"#D9D9D9"},"encoding":{
   "x":{"datum":1069,"type":"quantitative","scale":{"domain":[55,1045],"nice":false,"zero":false},"axis":{"title":null,"values":[125,250,375,500,625,750,875,1000],"labelExpr":"datum.value % 250 == 0 ? format(datum.value, 'd') : ''","gridWidth":{"condition":{"test":"datum.value % 250 == 0","value":1},"value":0.5},"tickOpacity":{"condition":{"test":"datum.value % 250 == 0","value":1},"value":0}}},
   "x2":{"datum":1261},
   "y":{"datum":-5,"type":"quantitative","scale":{"domain":[-5,105],"nice":false,"zero":false},"axis":{"title":null,"values":[0,12.5,25,37.5,50,62.5,75,87.5,100],"labelExpr":"datum.value % 25 == 0 ? format(datum.value/100, '.2f') : ''","gridWidth":{"condition":{"test":"datum.value % 25 == 0","value":1},"value":0.5},"tickOpacity":{"condition":{"test":"datum.value % 25 == 0","value":1},"value":0}}},
   "y2":{"datum":105}}},
  {"transform":[{"filter":{"field":"c","equal":"N8"}},{"aggregate":[{"op":"count","as":"k"}],"groupby":["c","r","rt"]}],"mark":{"type":"text","fontSize":8,"angle":90,"color":"#1A1A1A","baseline":"middle","align":"center"},"encoding":{
   "x":{"datum":1165,"type":"quantitative","scale":{"domain":[55,1045],"nice":false,"zero":false},"axis":{"title":null,"values":[125,250,375,500,625,750,875,1000],"labelExpr":"datum.value % 250 == 0 ? format(datum.value, 'd') : ''","gridWidth":{"condition":{"test":"datum.value % 250 == 0","value":1},"value":0.5},"tickOpacity":{"condition":{"test":"datum.value % 250 == 0","value":1},"value":0}}},
   "y":{"datum":50,"type":"quantitative","scale":{"domain":[-5,105],"nice":false,"zero":false},"axis":{"title":null,"values":[0,12.5,25,37.5,50,62.5,75,87.5,100],"labelExpr":"datum.value % 25 == 0 ? format(datum.value/100, '.2f') : ''","gridWidth":{"condition":{"test":"datum.value % 25 == 0","value":1},"value":0.5},"tickOpacity":{"condition":{"test":"datum.value % 25 == 0","value":1},"value":0}}},
   "text":{"field":"rt"}}}
 ]
},
"config":{
 "font":"Liberation Sans",
 "view":{"fill":"#EBEBEB","stroke":null},
 "axis":{"domain":false,"tickColor":"#333333","tickSize":2.5,"tickWidth":1,"labelColor":"#4D4D4D","labelFontSize":7.5,"labelPadding":1,"gridColor":"#FFFFFF","labelOverlap":false,"labelFlush":false},
 "legend":{"orient":"none","legendX":208,"legendY":343,"direction":"horizontal","titleOrient":"left","titleAnchor":"middle","titleBaseline":"middle","titleFontSize":10,"titleFontWeight":"normal","titleColor":"#000000","labelFontSize":8,"labelColor":"#000000","symbolType":"stroke","symbolStrokeWidth":2,"symbolSize":700,"symbolOpacity":1,"columnPadding":7,"labelOffset":5,"titlePadding":6}
}
}
